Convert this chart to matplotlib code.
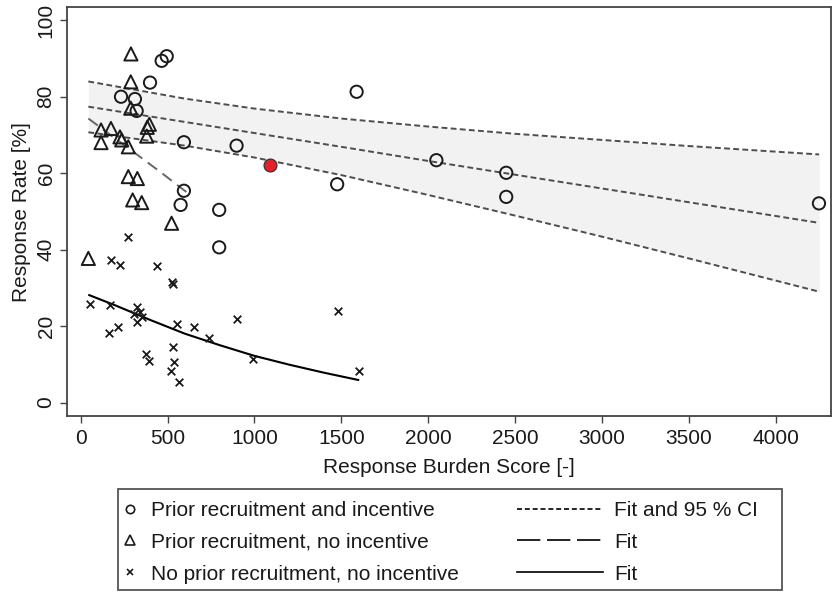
import matplotlib
matplotlib.use("Agg")
import matplotlib.pyplot as plt
from matplotlib.lines import Line2D
from matplotlib.patches import Rectangle

plt.rcParams['font.family'] = ['Liberation Sans', 'DejaVu Sans']

# --- data ---
circ_x = [466, 495, 399, 232, 312, 322, 594, 594, 575, 797, 797, 897, 1588, 1476, 2047, 2449, 2449, 4249]
circ_y = [89.4, 90.6, 83.7, 80.0, 79.4, 76.3, 68.1, 55.4, 51.7, 50.4, 40.6, 67.2, 81.3, 57.1, 63.4, 60.1, 53.8, 52.1]
red_x = [1089]
red_y = [62.2]

tri_x = [289, 288, 288, 117, 174, 117, 226, 236, 274, 395, 383, 380, 274, 326, 299, 351, 523, 44]
tri_y = [91.2, 83.9, 77.0, 71.3, 71.7, 68.0, 69.5, 68.7, 66.9, 72.8, 72.0, 69.7, 59.1, 58.6, 53.0, 52.3, 46.9, 37.7]

crs_x = [274, 175, 226, 437, 523, 531, 54, 169, 322, 341, 307, 351, 326, 165, 217, 552, 654, 740,
         529, 376, 393, 539, 520, 568, 897, 990, 1478, 1601]
crs_y = [43.4, 37.3, 36.0, 35.7, 31.4, 30.9, 25.8, 25.5, 24.9, 23.8, 23.1, 22.3, 21.1, 18.1, 19.7, 20.5, 19.7, 16.9,
         14.6, 12.7, 10.9, 10.5, 8.2, 5.3, 21.8, 11.3, 23.9, 8.2]

ci_x = [44, 600, 1000, 1500, 2000, 2500, 3000, 3500, 4250]
ci_fit = [77.4, 73.4, 70.5, 66.9, 63.2, 59.6, 56.0, 52.4, 47.0]
ci_lo = [70.7, 67.2, 64.1, 59.5, 54.3, 48.9, 43.4, 37.7, 29.0]
ci_hi = [84.0, 79.5, 76.9, 74.3, 72.2, 70.3, 68.7, 67.1, 64.9]

tri_fit_x = [44, 341, 456, 619]
tri_fit_y = [74.3, 64.3, 60.4, 54.7]

crs_fit_x = [49, 200, 400, 600, 800, 1000, 1200, 1400, 1597]
crs_fit_y = [28.1, 25.4, 21.6, 18.0, 15.0, 12.2, 9.9, 7.8, 5.9]

x_ticks = [0, 500, 1000, 1500, 2000, 2500, 3000, 3500, 4000]
y_ticks = [0, 20, 40, 60, 80, 100]

labels_pts = ["Prior recruitment and incentive", "Prior recruitment, no incentive",
              "No prior recruitment, no incentive"]
labels_fit = ["Fit and 95 % CI", "Fit", "Fit"]

# --- figure ---
fig = plt.figure(figsize=(8.32, 5.92), dpi=100)
ax = fig.add_axes([66.7 / 832, 1 - 416 / 592, (830.7 - 66.7) / 832, (416 - 7.3) / 592])

txt = '#1a1a1a'
FS = 15

ax.fill_between(ci_x, ci_lo, ci_hi, color='#f2f2f2', lw=0, zorder=1)
short_dash = (0, (3, 1.7))
for arr in (ci_hi, ci_fit, ci_lo):
    ax.plot(ci_x, arr, color='#4d4d4d', lw=1.4, linestyle=short_dash, zorder=2)
ax.plot(tri_fit_x, tri_fit_y, color='#666666', lw=1.4, linestyle=(0, (6, 3.5)), zorder=2)
ax.plot(crs_fit_x, crs_fit_y, color='black', lw=1.5, zorder=2)

ax.scatter(circ_x, circ_y, s=78, facecolors='none', edgecolors='#1a1a1a', linewidths=1.4, marker='o', zorder=3)
ax.scatter(red_x, red_y, s=85, facecolors='#e4212b', edgecolors='#333333', linewidths=0.9, marker='o', zorder=3)
ax.scatter(tri_x, tri_y, s=90, facecolors='none', edgecolors='#1a1a1a', linewidths=1.4, marker='^', zorder=3)
ax.scatter(crs_x, crs_y, s=30, c='#1a1a1a', linewidths=1.3, marker='x', zorder=3)

ax.set_xlim(-80.6, 4316.5)
ax.set_ylim(-3.53, 103.4)
ax.set_xticks(x_ticks)
ax.set_xticklabels([str(v) for v in x_ticks])
ax.set_yticks(y_ticks)
ax.set_yticklabels([str(v) for v in y_ticks], rotation=90, va='center')
ax.tick_params(direction='out', length=5, width=1.0, color='#444444', labelsize=FS, labelcolor=txt, pad=3)
ax.tick_params(axis='x', pad=4)
for sp in ax.spines.values():
    sp.set_color('#444444')
    sp.set_linewidth(1.3)

ax.set_xlabel("Response Burden Score [-]", fontsize=FS, color=txt, labelpad=7.5)
ax.set_ylabel("Response Rate [%]", fontsize=FS, color=txt, labelpad=4)

# --- legend ---
h_pts = [
    Line2D([], [], linestyle='none', marker='o', markersize=6, markerfacecolor='none',
           markeredgecolor='#1a1a1a', markeredgewidth=1.2),
    Line2D([], [], linestyle='none', marker='^', markersize=6.5, markerfacecolor='none',
           markeredgecolor='#1a1a1a', markeredgewidth=1.2),
    Line2D([], [], linestyle='none', marker='x', markersize=5, markeredgecolor='#1a1a1a',
           markeredgewidth=1.2),
]
h_fit = [
    Line2D([], [], color='black', lw=1.2, linestyle=(0, (3, 1.7))),
    Line2D([], [], color='black', lw=1.2, linestyle=(0, (14, 4))),
    Line2D([], [], color='black', lw=1.2),
]
common = dict(frameon=False, borderpad=0, borderaxespad=0, fontsize=FS, labelspacing=0.6,
              handleheight=0.8, loc='upper left', labelcolor=txt)
em = FS * 100 / 72.0
fig.legend(h_pts, labels_pts, bbox_to_anchor=(120 / 832, 1 - 501 / 592),
           handlelength=1.0, handletextpad=0.5, **common)
fig.legend(h_fit, labels_fit, bbox_to_anchor=(517 / 832, 1 - 501 / 592),
           handlelength=86 / em, handletextpad=11 / em, **common)
fig.patches.append(Rectangle((118 / 832, 1 - 590 / 592), (782 - 118) / 832, (590 - 489) / 592,
                             transform=fig.transFigure, fill=False, edgecolor='#555555', lw=1.3))

fig.savefig("out.png", dpi=100)
